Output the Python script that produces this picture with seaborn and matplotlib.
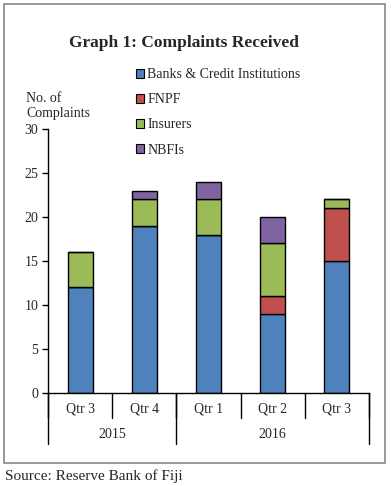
import numpy as np
import pandas as pd
import matplotlib
matplotlib.use("Agg")
import matplotlib.pyplot as plt
import matplotlib.transforms as mtransforms
from matplotlib.patches import Patch, Rectangle
import seaborn as sns

# Data
quarters = ["Qtr 3", "Qtr 4", "Qtr 1", "Qtr 2", "Qtr 3"]
years = ["2015", "2015", "2016", "2016", "2016"]
banks = [12, 19, 18, 9, 15]
fnpf = [0, 0, 0, 2, 6]
insurers = [4, 3, 4, 6, 1]
nbfis = [0, 1, 2, 3, 0]

series_names = ["Banks & Credit Institutions", "FNPF", "Insurers", "NBFIs"]
colors = ["#4F81BD", "#C0504D", "#9BBB59", "#8064A2"]

keys = [f"{y} {q}" for y, q in zip(years, quarters)]
df = pd.DataFrame({"period": keys, "Banks & Credit Institutions": banks,
                   "FNPF": fnpf, "Insurers": insurers, "NBFIs": nbfis})

sns.set_style("white")
plt.rcParams["font.family"] = ["Liberation Serif", "DejaVu Serif"]

fig = plt.figure(figsize=(3.91, 4.86), dpi=100)
ax = fig.add_axes([48 / 391, 93 / 486, 321 / 391, 264 / 486])

# stacked bars
bottom = np.zeros(len(df))
for name, col in zip(series_names, colors):
    sns.barplot(data=df, x="period", y=name, bottom=bottom, color=col,
                saturation=1, width=0.39, edgecolor="black", linewidth=1,
                errorbar=None, ax=ax)
    bottom = bottom + df[name].to_numpy()

ax.set_xlim(-0.5, len(df) - 0.5)
ax.set_ylim(0, 30)
ax.set_yticks(range(0, 31, 5))
ax.tick_params(axis="y", length=4, width=1, color="black", labelsize=10, pad=3,
               left=True)
ax.set_xticks([])
ax.set_xlabel("")
ax.set_ylabel("")
for s in ["top", "right"]:
    ax.spines[s].set_visible(False)
for s in ["left", "bottom"]:
    ax.spines[s].set_color("black")
    ax.spines[s].set_linewidth(1)

# two level category axis
trans = mtransforms.blended_transform_factory(ax.transData, ax.transAxes)
h = 264.0
for i in range(len(df) + 1):
    ax.plot([i - 0.5, i - 0.5], [0, -25 / h], color="black", lw=1,
            transform=trans, clip_on=False)
for i, q in enumerate(quarters):
    ax.text(i, -16 / h, q, ha="center", va="center", fontsize=10,
            transform=trans)
year_groups = {}
for i, y in enumerate(years):
    year_groups.setdefault(y, []).append(i)
for y, idx in year_groups.items():
    ax.text((idx[0] + idx[-1]) / 2, -41 / h, y, ha="center", va="center",
            fontsize=10, transform=trans)
for xb in [-0.5, 1.5, len(df) - 0.5]:
    ax.plot([xb, xb], [0, -51 / h], color="black", lw=1,
            transform=trans, clip_on=False)

# legend
handles = [Patch(facecolor=c, edgecolor="black", linewidth=0.8) for c in colors]
fig.legend(handles, series_names, loc="upper left",
           bbox_to_anchor=(136 / 391, 1 - 68 / 486), frameon=False,
           fontsize=10, handlelength=0.6, handleheight=0.6,
           handletextpad=0.2, labelspacing=0.88, borderpad=0,
           borderaxespad=0)

fig.text(184 / 391, 1 - 43 / 486, "Graph 1: Complaints Received",
         ha="center", va="center", fontsize=12.5, fontweight="bold")
fig.text(26 / 391, 1 - 106 / 486, "No. of\nComplaints", ha="left",
         va="center", fontsize=10, linespacing=1.2)
fig.text(5 / 391, 1 - 476 / 486, "Source: Reserve Bank of Fiji",
         ha="left", va="center", fontsize=11)

# outer frame
fig.patches.append(Rectangle((4 / 391, 23 / 486), 381 / 391, 459 / 486,
                             transform=fig.transFigure, fill=False,
                             edgecolor="#888888", linewidth=1.2))

fig.savefig("out.png", dpi=100)
